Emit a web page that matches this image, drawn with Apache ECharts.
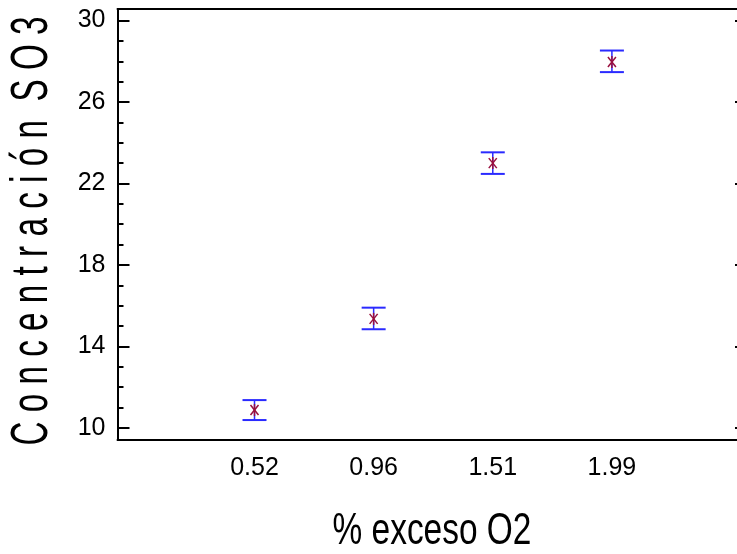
<!DOCTYPE html>
<html lang="es">
<head>
<meta charset="utf-8">
<title>Concentración SO3 vs % exceso O2</title>
<script src="https://cdn.jsdelivr.net/npm/echarts@6.0.0/dist/echarts.min.js"></script>
<style>
  html, body { margin: 0; padding: 0; background: #fff; }
  #main { width: 737px; height: 554px; }
</style>
</head>
<body>
<div id="main"></div>
<script>
// datos (media +/- intervalo)
const xLabels = ['0.52', '0.96', '1.51', '1.99'];
const means = [10.87, 15.35, 23.0, 27.97];
const lower = [10.38, 14.84, 22.47, 27.47];
const upper = [11.36, 15.90, 23.53, 28.53];
const yMajor = [10, 14, 18, 22, 26, 30];
const yMinor = [11, 12, 13, 15, 16, 17, 19, 20, 21, 23, 24, 25, 27, 28, 29];

const FONT = "'Liberation Sans', Arial, sans-serif";

const chart = echarts.init(document.getElementById('main'));

const barData = xLabels.map((_, i) => [i, means[i], lower[i], upper[i]]);

function renderBar(params, api) {
  const x = api.value(0);
  const c = api.coord([x, api.value(1)]);
  const lo = api.coord([x, api.value(2)]);
  const hi = api.coord([x, api.value(3)]);
  const cap = 12;
  const blue = { stroke: '#2a2aff', lineWidth: 2 };
  const star = { stroke: '#99103f', lineWidth: 1.5 };
  return {
    type: 'group',
    children: [
      { type: 'line', shape: { x1: lo[0], y1: lo[1], x2: hi[0], y2: hi[1] }, style: { stroke: '#2a2aff', lineWidth: 1.5 } },
      { type: 'line', shape: { x1: hi[0] - cap, y1: hi[1], x2: hi[0] + cap, y2: hi[1] }, style: blue },
      { type: 'line', shape: { x1: lo[0] - cap, y1: lo[1], x2: lo[0] + cap, y2: lo[1] }, style: blue },
      // asterisco
      { type: 'line', shape: { x1: c[0], y1: c[1] - 6, x2: c[0], y2: c[1] + 6 }, style: star },
      { type: 'line', shape: { x1: c[0] - 4, y1: c[1] - 5, x2: c[0] + 4, y2: c[1] + 5 }, style: star },
      { type: 'line', shape: { x1: c[0] - 4, y1: c[1] + 5, x2: c[0] + 4, y2: c[1] - 5 }, style: star }
    ]
  };
}

const option = {
  backgroundColor: '#fff',
  animation: false,
  grid: { left: 117.5, right: 0, top: 9, bottom: 114 },
  xAxis: [
    {
      type: 'value', min: -1.15, max: 4.05, position: 'bottom',
      splitLine: { show: false },
      axisLine: { show: true, onZero: false, lineStyle: { color: '#000', width: 2 } },
      axisTick: { show: false },
      axisLabel: {
        customValues: [0, 1, 2, 3],
        formatter: v => xLabels[Math.round(v)],
        color: '#000', fontFamily: FONT, fontSize: 25, margin: 16
      }
    },
    {
      type: 'value', min: -1.15, max: 4.05, position: 'top',
      splitLine: { show: false },
      axisLine: { show: true, onZero: false, lineStyle: { color: '#000', width: 2 } },
      axisTick: { show: false },
      axisLabel: { show: false }
    }
  ],
  yAxis: [
    {
      type: 'value', min: 9.4, max: 30.57, position: 'left',
      splitLine: { show: false },
      axisLine: { show: true, onZero: false, lineStyle: { color: '#000', width: 2 } },
      axisTick: { show: true, inside: true, length: 12, customValues: yMajor, lineStyle: { color: '#000', width: 2 } },
      axisLabel: { customValues: yMajor, color: '#000', fontFamily: FONT, fontSize: 25, margin: 12 }
    },
    {
      type: 'value', min: 9.4, max: 30.57, position: 'left',
      splitLine: { show: false },
      axisLine: { show: false, onZero: false },
      axisTick: { show: true, inside: true, length: 6, customValues: yMinor, lineStyle: { color: '#000', width: 2 } },
      axisLabel: { show: false }
    },
    {
      type: 'value', min: 9.4, max: 30.57, position: 'right',
      splitLine: { show: false },
      axisLine: { show: false, onZero: false },
      axisTick: { show: true, inside: true, length: 2, customValues: yMajor, lineStyle: { color: '#000', width: 2 } },
      axisLabel: { show: false }
    }
  ],
  graphic: [
    {
      type: 'text', x: 33, y: 231, rotation: Math.PI / 2, scaleX: 0.64,
      style: {
        text: 'C o n c e n t r a c i ó n  S O 3',
        fontFamily: FONT, fontSize: 52, fill: '#000',
        align: 'center', verticalAlign: 'middle'
      }
    },
    {
      type: 'text', x: 432, y: 532, scaleX: 0.76,
      style: {
        text: '% exceso O2',
        fontFamily: FONT, fontSize: 44, fill: '#000',
        align: 'center', verticalAlign: 'middle'
      }
    }
  ],
  series: [
    {
      type: 'custom',
      xAxisIndex: 0, yAxisIndex: 0,
      renderItem: renderBar,
      data: barData,
      clip: false
    }
  ]
};

chart.setOption(option);
</script>
</body>
</html>
